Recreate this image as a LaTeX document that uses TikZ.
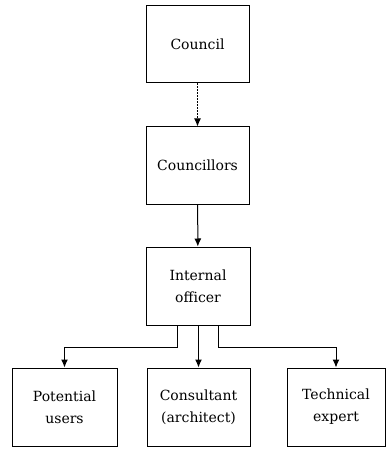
\documentclass[tikz,border=0pt]{standalone}
\usepackage{fontspec}
\setmainfont{DejaVu Serif}
\usetikzlibrary{arrows.meta}
\begin{document}
\begin{tikzpicture}[x=1pt,y=-1pt,
  box/.style={draw, line width=1pt, rectangle, align=center, inner sep=0pt,
    font=\fontsize{14}{22}\selectfont},
  arr/.style={-{Latex[length=8pt,width=7pt]}, line width=1pt}]
  \useasboundingbox (0,0) rectangle (386,449);
  % hierarchy of boxes
  \node[box, minimum width=103pt, minimum height=77pt] (council) at (197.5,44.5) {Council};
  \node[box, minimum width=103pt, minimum height=77pt] (councillors) at (197.5,165.5) {Councillors};
  \node[box, minimum width=104pt, minimum height=78pt] (officer) at (198,286) {Internal\\officer};
  \node[box, minimum width=105pt, minimum height=78pt] (users) at (64.5,407) {Potential\\users};
  \node[box, minimum width=103pt, minimum height=78pt] (consultant) at (198.5,407) {Consultant\\(architect)};
  \node[box, minimum width=98pt, minimum height=78pt] (expert) at (336,407) {Technical\\expert};
  % vertical links
  \draw[arr, dash pattern=on 2pt off 1pt] (council) -- (councillors);
  \draw[arr] (councillors) -- (officer);
  % branches from the internal officer
  \draw[arr] ([xshift=-21pt]officer.south) -- ++(0,22) -| (users.north);
  \draw[arr] (officer.south -| consultant.north) -- (consultant.north);
  \draw[arr] ([xshift=20pt]officer.south) -- ++(0,22) -| (expert.north);
\end{tikzpicture}
\end{document}
